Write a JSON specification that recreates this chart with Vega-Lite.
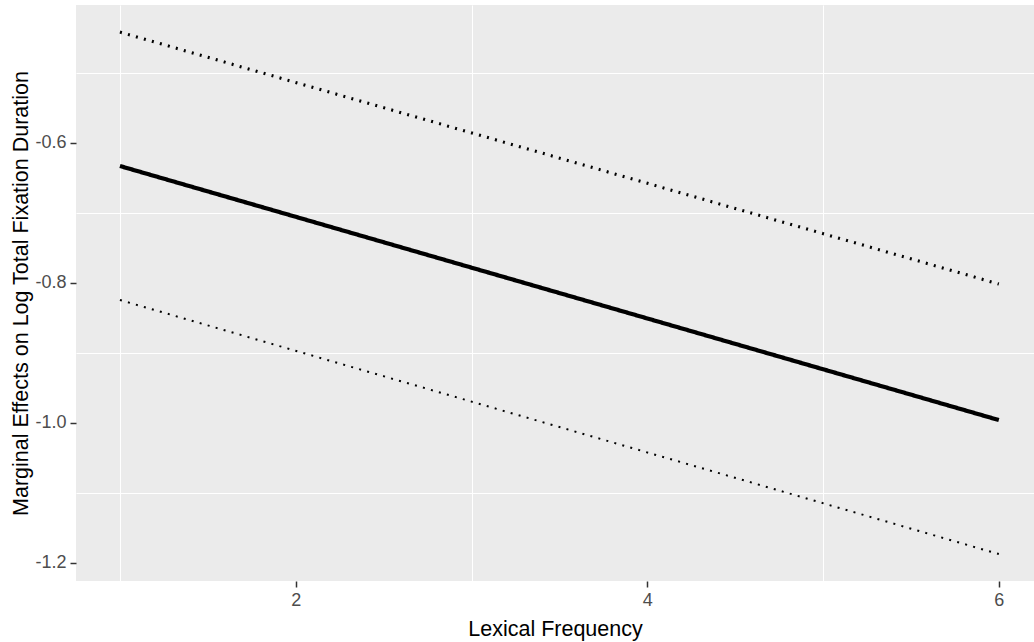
{
  "$schema": "https://vega.github.io/schema/vega-lite/v6.json",
  "autosize": "none",
  "padding": {"left": 76, "top": 5, "right": 0, "bottom": 61},
  "width": 958,
  "height": 576,
  "background": "white",
  "view": {"fill": "#EBEBEB", "stroke": null},
  "config": {
    "font": "Liberation Sans",
    "axis": {
      "labelFont": "Liberation Sans",
      "titleFont": "Liberation Sans",
      "labelColor": "#4D4D4D",
      "labelFontSize": 18,
      "titleFontSize": 21.5,
      "titleFontWeight": "normal",
      "titleColor": "black",
      "tickColor": "#333333",
      "tickSize": 6,
      "tickWidth": 1.5,
      "domain": false,
      "grid": true,
      "gridColor": "white",
      "gridWidth": 2
    }
  },
  "data": {
    "values": [
      {"freq": 1, "value": -0.6333, "series": "estimate"},
      {"freq": 6, "value": -0.9962, "series": "estimate"},
      {"freq": 1, "value": -0.442, "series": "upper"},
      {"freq": 6, "value": -0.8019, "series": "upper"},
      {"freq": 1, "value": -0.8247, "series": "lower"},
      {"freq": 6, "value": -1.1876, "series": "lower"}
    ]
  },
  "layer": [
    {
      "mark": {"type": "line", "opacity": 0},
      "encoding": {
        "x": {
          "field": "freq", "type": "quantitative",
          "scale": {"domain": [0.75, 6.2], "nice": false, "zero": false},
          "axis": {"orient": "top", "values": [1, 3, 5], "labels": false, "ticks": false, "title": null, "gridWidth": 1}
        },
        "y": {
          "field": "value", "type": "quantitative",
          "scale": {"domain": [-1.2261, -0.4033], "nice": false, "zero": false},
          "axis": {"orient": "right", "values": [-1.1, -0.9, -0.7, -0.5], "labels": false, "ticks": false, "title": null, "gridWidth": 1}
        },
        "detail": {"field": "series"}
      }
    },
    {
      "mark": {"type": "line", "color": "black", "strokeCap": "butt"},
      "encoding": {
        "x": {
          "field": "freq", "type": "quantitative",
          "axis": {"values": [2, 4, 6], "format": "d", "title": "Lexical Frequency", "labelPadding": 4, "titlePadding": 9}
        },
        "y": {
          "field": "value", "type": "quantitative",
          "axis": {"values": [-1.2, -1.0, -0.8, -0.6], "format": ".1f", "labelExpr": "replace(datum.label, '\u2212', '-')", "title": "Marginal Effects on Log Total Fixation Duration", "labelPadding": 4, "titlePadding": 2}
        },
        "detail": {"field": "series"},
        "strokeDash": {
          "field": "series", "type": "nominal",
          "scale": {"domain": ["estimate", "upper", "lower"], "range": [[1, 0], [2, 6.3], [2, 6.3]]},
          "legend": null
        },
        "strokeWidth": {
          "field": "series", "type": "nominal",
          "scale": {"domain": ["estimate", "upper", "lower"], "range": [4.2, 2, 2]},
          "legend": null
        }
      }
    }
  ],
  "resolve": {"axis": {"x": "independent", "y": "independent"}}
}
